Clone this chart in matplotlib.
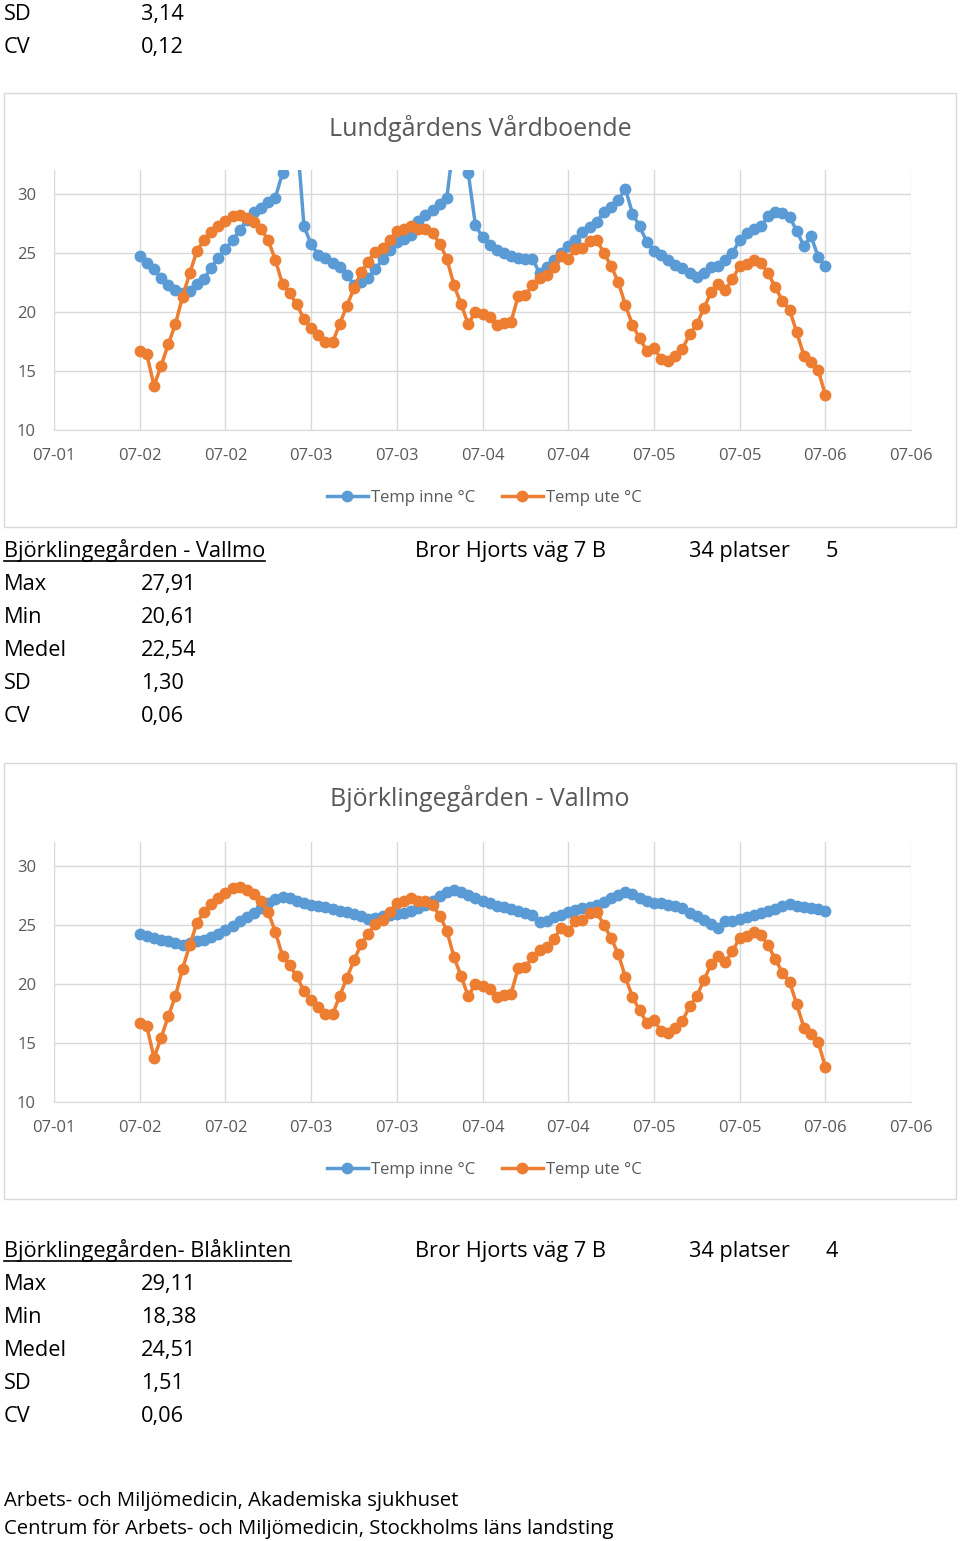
import matplotlib
matplotlib.use('Agg')
import matplotlib.pyplot as plt
from matplotlib.patches import Rectangle
from matplotlib.lines import Line2D
import numpy as np

W, H = 960, 1541

# hourly readings 07-02 00:00 .. 07-06 00:00
hours = list(range(97))

temp_ute = [16.7, 16.4, 13.74, 15.43, 17.26, 18.95, 21.28, 23.25, 25.13, 26.06,
            26.77, 27.27, 27.67, 28.1, 28.17, 27.97, 27.6, 27.0, 26.06, 24.37,
            22.35, 21.56, 20.63, 19.37, 18.66, 18.05, 17.48, 17.43, 18.95, 20.5,
            21.98, 23.33, 24.23, 25.08, 25.44, 26.06, 26.82, 26.99, 27.24, 27.05,
            26.99, 26.68, 25.78, 24.51, 22.26, 20.66, 18.95, 20.01, 19.79, 19.54,
            18.89, 19.03, 19.17, 21.34, 21.42, 22.26, 22.83, 23.11, 23.81, 24.71,
            24.43, 25.3, 25.44, 26.0, 26.06, 25.0, 23.87, 22.55, 20.58, 18.89,
            17.76, 16.7, 16.98, 15.99, 15.85, 16.3, 16.86, 18.1, 18.95, 20.3,
            21.65, 22.35, 21.84, 22.77, 23.87, 24.04, 24.37, 24.15, 23.25, 22.07,
            20.94, 20.15, 18.27, 16.3, 15.79, 15.09, 12.98]

inne_lundgarden = [24.74, 24.09, 23.59, 22.83, 22.26, 21.84, 21.56, 21.76, 22.32, 22.77,
                   23.73, 24.57, 25.3, 26.06, 26.9, 27.75, 28.45, 28.79, 29.3, 29.66,
                   31.77, 36.0, 35.0, 27.27, 25.7, 24.85, 24.57, 24.09, 23.76, 23.11,
                   22.3, 22.55, 22.9, 23.6, 24.46, 25.22, 25.92, 26.15, 26.48, 27.67,
                   28.23, 28.59, 29.16, 29.63, 34.5, 35.0, 31.77, 27.38, 26.29, 25.64,
                   25.22, 24.94, 24.74, 24.57, 24.51, 24.51, 23.25, 23.81, 24.37, 24.94,
                   25.56, 26.06, 26.77, 27.19, 27.61, 28.45, 28.87, 29.44, 30.42, 28.31,
                   27.24, 25.92, 25.16, 24.8, 24.37, 24.0, 23.67, 23.25, 22.97, 23.25,
                   23.81, 23.87, 24.37, 24.94, 26.06, 26.68, 27.05, 27.24, 28.09, 28.45,
                   28.4, 28.03, 26.85, 25.56, 26.4, 24.66, 23.87]

inne_vallmo = [24.24, 24.02, 23.88, 23.74, 23.6, 23.46, 23.32, 23.46, 23.6, 23.74,
               23.96, 24.24, 24.58, 24.92, 25.28, 25.64, 25.98, 26.4, 26.88, 27.16,
               27.38, 27.3, 27.02, 26.82, 26.68, 26.6, 26.46, 26.32, 26.18, 26.06,
               25.92, 25.76, 25.5, 25.56, 25.76, 25.84, 25.92, 25.98, 26.18, 26.4,
               26.68, 27.02, 27.46, 27.8, 27.91, 27.74, 27.52, 27.3, 27.02, 26.82,
               26.62, 26.46, 26.32, 26.12, 25.98, 25.84, 25.22, 25.34, 25.62, 25.84,
               26.06, 26.26, 26.4, 26.54, 26.68, 26.9, 27.24, 27.52, 27.8, 27.58,
               27.3, 27.02, 26.88, 26.82, 26.68, 26.6, 26.4, 25.98, 25.7, 25.42,
               25.06, 24.72, 25.28, 25.34, 25.48, 25.62, 25.84, 25.98, 26.12, 26.34,
               26.62, 26.74, 26.6, 26.46, 26.4, 26.32, 26.12]

tick_hours = list(range(-12, 109, 12))
tick_labels = ['07-01', '07-02', '07-02', '07-03', '07-03', '07-04', '07-04',
               '07-05', '07-05', '07-06', '07-06']
y_ticks = [10, 15, 20, 25, 30]

stats_top = [('SD', '3,14'), ('CV', '0,12')]
stats_vallmo = [('Max', '27,91'), ('Min', '20,61'), ('Medel', '22,54'), ('SD', '1,30'), ('CV', '0,06')]
stats_blaklinten = [('Max', '29,11'), ('Min', '18,38'), ('Medel', '24,51'), ('SD', '1,51'), ('CV', '0,06')]

BLUE = '#5B9BD5'
ORANGE = '#ED7D31'
GRID = '#D9D9D9'
GREY_TXT = '#595959'
FONT = 'Open Sans'

plt.rcParams['font.family'] = [FONT, 'DejaVu Sans']

fig = plt.figure(figsize=(W / 100, H / 100), dpi=100)


def fx(x):
    return x / W


def fy(y):
    return 1 - y / H


def chart(box_top, box_bottom, plot_top, plot_bottom, title_y, legend_y, title, inne):
    fig.patches.append(Rectangle((fx(4), fy(box_bottom)), fx(952), (box_bottom - box_top) / H,
                                 transform=fig.transFigure, fill=False, edgecolor=GRID, lw=1))
    fig.text(fx(480), fy(title_y), title, ha='center', va='center', fontsize=18, color=GREY_TXT)
    ax = fig.add_axes([fx(54), fy(plot_bottom), fx(857), (plot_bottom - plot_top) / H])
    ax.plot(hours, inne, color=BLUE, lw=2.5, marker='o', ms=7.5, label='Temp inne °C')
    ax.plot(hours, temp_ute, color=ORANGE, lw=2.5, marker='o', ms=7.5, label='Temp ute °C')
    ax.set_xlim(-12, 108)
    ax.set_ylim(10, 32)
    ax.set_xticks(tick_hours)
    ax.set_xticklabels(tick_labels)
    ax.set_yticks(y_ticks)
    ax.grid(True, color=GRID, lw=1)
    ax.set_axisbelow(True)
    for s in ['top', 'right', 'left']:
        ax.spines[s].set_visible(False)
    ax.spines['bottom'].set_color(GRID)
    ax.tick_params(length=0, labelsize=12, labelcolor=GREY_TXT)
    ax.tick_params(axis='x', pad=13)
    ax.tick_params(axis='y', pad=13)
    h, l = ax.get_legend_handles_labels()
    fig.legend(h, l, loc='center', bbox_to_anchor=(fx(484), fy(legend_y)), ncol=2, frameon=False,
               fontsize=12, labelcolor=GREY_TXT, handlelength=2.5, handletextpad=0.15,
               columnspacing=1.6)


chart(93, 527, 170, 430, 129, 498, 'Lundgårdens Vårdboende', inne_lundgarden)
chart(763, 1199, 842, 1102, 799, 1170, 'Björklingegården - Vallmo', inne_vallmo)

TXT = 15.7
BASE = 8  # baseline offset below the visual centre of a line


def put(x, y, s, **kw):
    return fig.text(fx(x), fy(y + BASE), s, va='baseline', fontsize=TXT, **kw)


for i, (k, v) in enumerate(stats_top):
    put(4, 12 + 33 * i, k)
    put(141, 12 + 33 * i, v)

headers = []


def section(y0, name, place, nr, stats):
    headers.append(put(4, y0, name))
    put(415, y0, 'Bror Hjorts väg 7 B')
    put(689, y0, place)
    put(826, y0, nr)
    for i, (k, v) in enumerate(stats):
        put(4, y0 + 33 * (i + 1), k)
        put(141, y0 + 33 * (i + 1), v)


section(549, 'Björklingegården - Vallmo', '34 platser', '5', stats_vallmo)
section(1249, 'Björklingegården- Blåklinten', '34 platser', '4', stats_blaklinten)

fig.text(fx(4), fy(1506), 'Arbets- och Miljömedicin, Akademiska sjukhuset', va='baseline', fontsize=14.6)
fig.text(fx(4), fy(1534), 'Centrum för Arbets- och Miljömedicin, Stockholms läns landsting',
         va='baseline', fontsize=14.6)

# underline the section headers
fig.canvas.draw()
r = fig.canvas.get_renderer()
for t in headers:
    bb = t.get_window_extent(r)
    yl = bb.y0 + 1.5
    fig.lines.append(Line2D([bb.x0 / W, bb.x1 / W], [yl / H, yl / H], transform=fig.transFigure,
                            color='black', lw=1.2))

fig.savefig('out.png', dpi=100)
